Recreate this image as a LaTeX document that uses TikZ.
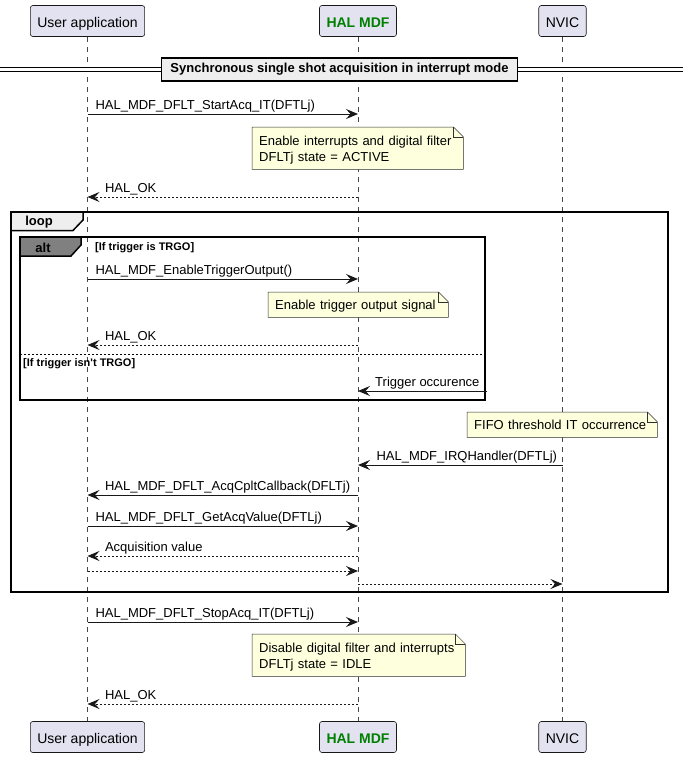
\documentclass[tikz,border=0pt]{standalone}
\usepackage{fontspec}
\setmainfont{Liberation Sans}
\usetikzlibrary{arrows.meta,backgrounds}
\definecolor{partfill}{HTML}{E2E2F0}
\definecolor{partline}{HTML}{181818}
\definecolor{notefill}{HTML}{FEFFDD}
\definecolor{halgreen}{HTML}{008000}
\definecolor{tabgray}{HTML}{EEEEEE}
\definecolor{altgray}{HTML}{808080}
\begin{document}
\begin{tikzpicture}[x=1pt,y=-1pt,
  part/.style={draw=partline, fill=partfill, rounded corners=2.5pt, line width=0.6pt,
    minimum height=31pt, inner xsep=7pt, inner ysep=0pt, text height=13pt, text depth=0pt,
    font=\fontsize{14}{16}\selectfont},
  halpart/.style={part, text=halgreen, font=\fontsize{14}{16}\selectfont\bfseries},
  lifeline/.style={draw=partline!80, line width=0.5pt, dash pattern=on 5pt off 5pt},
  msg/.style={draw=partline, line width=1pt, -{Stealth[length=12pt,width=10pt,inset=4.5pt]}},
  ret/.style={msg, dash pattern=on 2pt off 2pt},
  lbl/.style={font=\fontsize{13}{15}\selectfont, inner sep=0pt},
  notetext/.style={font=\fontsize{13}{16}\selectfont, inner xsep=7pt, inner ysep=0pt, align=left, anchor=north west},
  notebox/.style={draw=partline!90, fill=notefill, line width=0.5pt},
  divider/.style={draw=black, fill=tabgray, line width=1.5pt, minimum width=356pt, minimum height=23pt,
    inner sep=0pt, font=\fontsize{13}{15}\selectfont\bfseries},
  frame/.style={draw=black, line width=1.5pt},
  looptab/.style={frame, fill=tabgray},
  alttab/.style={frame, fill=altgray},
  tablbl/.style={font=\fontsize{13}{15}\selectfont\bfseries, inner sep=0pt},
  guard/.style={font=\fontsize{11}{13}\selectfont\bfseries, inner sep=0pt, anchor=west},
  altsep/.style={draw=black, line width=0.8pt, dash pattern=on 2pt off 2pt}
]
\useasboundingbox (0,0) rectangle (683,758);

% participants
\node[part] (ut) at (87.5,21) {User application};
\node[halpart] (ht) at (358,21) {HAL MDF};
\node[part] (nt) at (562.5,21) {NVIC};
\node[part] (ub) at (87.5,737) {User application};
\node[halpart] (hb) at (358,737) {HAL MDF};
\node[part] (nb) at (562.5,737) {NVIC};

% divider
\coordinate (dl) at (0,69.5);
\coordinate (dr) at (683,69.5);
\draw[double=white, double distance=3pt, line width=1pt] (dl) -- (dr);
\node[divider] (title) at (339.5,69.5) {Synchronous single shot acquisition in interrupt mode};

% message coordinates
\coordinate (u1) at (87.5,114);  \coordinate (h1) at (358,114);
\coordinate (u2) at (87.5,197);  \coordinate (h2) at (358,197);
\coordinate (u3) at (87.5,279);  \coordinate (h3) at (358,279);
\coordinate (u4) at (87.5,345);  \coordinate (h4) at (358,345);
\coordinate (t5) at (487,391);   \coordinate (h5) at (358,391);
\coordinate (n6) at (562.5,465); \coordinate (h6) at (358,465);
\coordinate (u7) at (87.5,495);  \coordinate (h7) at (358,495);
\coordinate (u8) at (87.5,526);  \coordinate (h8) at (358,526);
\coordinate (u9) at (87.5,556);  \coordinate (h9) at (358,556);
\coordinate (u10) at (87.5,571); \coordinate (h10) at (358,571);
\coordinate (h11) at (358,584);  \coordinate (n11) at (562.5,584);
\coordinate (u12) at (87.5,622); \coordinate (h12) at (358,622);
\coordinate (u13) at (87.5,704); \coordinate (h13) at (358,704);

% notes (text)
\node[notetext, text width=197pt, minimum height=42pt] (n1) at (252,127)
  {\rule{0pt}{13pt}Enable interrupts and digital filter\\DFLTj state = ACTIVE};
\node[notetext, text width=166pt, minimum height=25pt, text depth=0pt] (n2) at (268,292)
  {Enable trigger output signal};
\node[notetext, text width=176pt, minimum height=25pt, text depth=0pt] (n3) at (467,412)
  {FIFO threshold IT occurrence};
\node[notetext, text width=199pt, minimum height=42pt] (n4) at (252,634)
  {\rule{0pt}{13pt}Disable digital filter and interrupts\\DFLTj state = IDLE};

\begin{scope}[on background layer]
  \draw[lifeline] (ut.south) -- (ub.north);
  \draw[lifeline] (ht.south) -- (hb.north);
  \draw[lifeline] (nt.south) -- (nb.north);
  \foreach \n in {n1,n2,n3,n4} {
    \filldraw[notebox] (\n.north west) -- ([xshift=-10pt]\n.north east)
      -- ([yshift=-10pt]\n.north east) -- (\n.south east) -- (\n.south west) -- cycle;
    \draw[notebox, fill=none] ([xshift=-10pt]\n.north east) |- ([yshift=-10pt]\n.north east);
  }
\end{scope}

% loop frame
\draw[frame] (11,212) rectangle (668,592);
\filldraw[looptab] (11,212) -- (83,212) -- (83,220) -- (73,230.5) -- (11,230.5) -- cycle;
\node[tablbl] (looplbl) at (39,222) {loop};

% alt frame
\draw[frame] (20,237) rectangle (485,400);
\filldraw[alttab] (20,237) -- (81,237) -- (81,245) -- (71,256) -- (20,256) -- cycle;
\node[tablbl] (altlbl) at (43,247.5) {alt};
\node[guard] (g1) at (95,248) {[If trigger is TRGO]};
\draw[altsep] (20,354) -- (485,354);
\node[guard] (g2) at (23,363.5) {[If trigger isn\textquotesingle t TRGO]};

% messages
\draw[msg] (u1) -- (h1) node[lbl, at start, anchor=base west, xshift=7.5pt, yshift=5pt] (l1) {HAL\_MDF\_DFLT\_StartAcq\_IT(DFTLj)};
\draw[ret] (h2) -- (u2) node[lbl, at end, anchor=base west, xshift=17pt, yshift=5pt] (l2) {HAL\_OK};
\draw[msg] (u3) -- (h3) node[lbl, at start, anchor=base west, xshift=7.5pt, yshift=5pt] (l3) {HAL\_MDF\_EnableTriggerOutput()};
\draw[ret] (h4) -- (u4) node[lbl, at end, anchor=base west, xshift=17pt, yshift=5pt] (l4) {HAL\_OK};
\draw[msg] (t5) -- (h5) node[lbl, at start, anchor=base east, xshift=-7pt, yshift=5pt] (l5) {Trigger occurence};
\draw[msg] (n6) -- (h6) node[lbl, at end, anchor=base west, xshift=18pt, yshift=5pt] (l6) {HAL\_MDF\_IRQHandler(DFTLj)};
\draw[msg] (h7) -- (u7) node[lbl, at end, anchor=base west, xshift=17pt, yshift=5pt] (l7) {HAL\_MDF\_DFLT\_AcqCpltCallback(DFLTj)};
\draw[msg] (u8) -- (h8) node[lbl, at start, anchor=base west, xshift=7.5pt, yshift=5pt] (l8) {HAL\_MDF\_DFLT\_GetAcqValue(DFTLj)};
\draw[ret] (h9) -- (u9) node[lbl, at end, anchor=base west, xshift=17pt, yshift=5pt] (l9) {Acquisition value};
\draw[ret] (u10) -- (h10);
\draw[ret] (h11) -- (n11);
\draw[msg] (u12) -- (h12) node[lbl, at start, anchor=base west, xshift=7.5pt, yshift=5pt] (l12) {HAL\_MDF\_DFLT\_StopAcq\_IT(DFTLj)};
\draw[ret] (h13) -- (u13) node[lbl, at end, anchor=base west, xshift=17pt, yshift=5pt] (l13) {HAL\_OK};
\end{tikzpicture}
\end{document}
